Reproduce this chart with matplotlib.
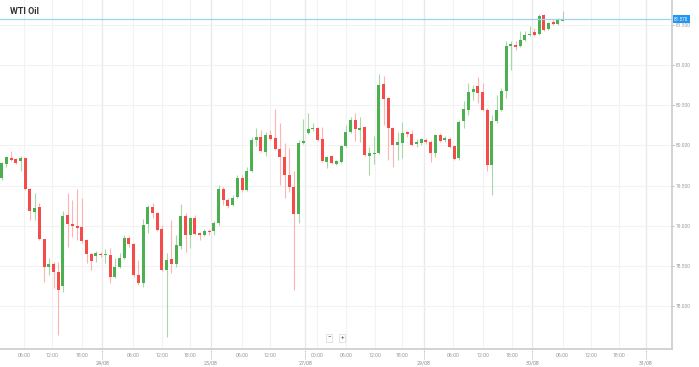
import numpy as np
import matplotlib.pyplot as plt

plt.rcParams['font.family'] = ['Roboto', 'DejaVu Sans']

# hourly WTI candles
opens = [79.59, 79.77, 79.84, 79.83, 79.81, 79.84, 79.46, 79.17, 79.23, 78.83,
         78.49, 78.52, 78.42, 78.25, 79.13, 79.02, 79.00, 78.98, 78.82, 78.65,
         78.62, 78.65, 78.64, 78.64, 78.36, 78.49, 78.60, 78.85, 78.77, 78.39,
         78.29, 79.02, 79.23, 79.16, 78.96, 78.45, 78.58, 78.52, 78.75, 79.12,
         78.88, 79.10, 78.91, 78.88, 78.93, 78.93, 79.03, 79.46, 79.32, 79.26,
         79.36, 79.59, 79.44, 79.68, 80.07, 80.10, 79.92, 80.13, 80.09, 79.95,
         79.85, 79.63, 79.48, 79.15, 80.03, 80.15, 80.20, 80.22, 80.08, 79.79,
         79.87, 79.77, 79.79, 79.99, 80.17, 80.32, 80.19, 80.23, 79.87, 79.89,
         79.91, 80.76, 80.59, 80.22, 80.01, 80.03, 80.17, 80.14, 80.02, 80.03,
         80.07, 80.04, 79.91, 80.13, 80.07, 80.08, 79.99, 79.84, 80.30, 80.44,
         80.66, 80.74, 80.66, 80.44, 79.76, 80.30, 80.44, 80.68, 81.24, 81.25,
         81.24, 81.31, 81.37, 81.41, 81.39, 81.62, 81.45, 81.54, 81.51, 81.55]
highs = [79.79, 79.87, 79.93, 79.84, 79.87, 79.85, 79.47, 79.41, 79.28, 78.84,
         78.60, 78.55, 78.55, 79.18, 79.41, 79.32, 79.46, 79.34, 78.83, 78.66,
         78.69, 78.67, 78.71, 78.72, 78.60, 78.66, 78.88, 78.87, 78.78, 78.57,
         79.08, 79.26, 79.28, 79.17, 79.01, 78.66, 79.07, 78.88, 79.27, 79.16,
         79.11, 79.13, 78.92, 78.96, 78.96, 79.06, 79.51, 79.48, 79.34, 79.38,
         79.63, 79.63, 79.73, 80.10, 80.22, 80.19, 80.17, 80.19, 80.45, 80.28,
         80.03, 79.97, 79.68, 80.07, 80.33, 80.40, 80.28, 80.23, 80.23, 79.87,
         79.88, 79.82, 80.01, 80.25, 80.35, 80.40, 80.35, 80.24, 79.98, 80.12,
         80.89, 80.86, 80.60, 80.23, 80.17, 80.29, 80.18, 80.19, 80.08, 80.09,
         80.09, 80.07, 80.14, 80.15, 80.12, 80.10, 80.01, 80.32, 80.55, 80.78,
         80.75, 80.85, 80.78, 80.46, 80.38, 80.63, 80.71, 81.30, 81.30, 81.30,
         81.42, 81.42, 81.49, 81.46, 81.64, 81.64, 81.54, 81.57, 81.59, 81.67]
lows = [79.57, 79.73, 79.81, 79.77, 79.68, 79.44, 79.07, 79.07, 78.82, 78.30,
        78.39, 78.22, 77.64, 78.17, 78.73, 78.86, 78.82, 78.78, 78.54, 78.45,
        78.55, 78.61, 78.54, 78.29, 78.35, 78.47, 78.59, 78.73, 78.36, 78.26,
        78.24, 78.91, 79.10, 78.93, 78.43, 77.61, 78.41, 78.49, 78.71, 78.67,
        78.72, 78.88, 78.82, 78.87, 78.88, 78.88, 79.01, 79.26, 79.22, 79.25,
        79.34, 79.42, 79.43, 79.67, 79.99, 79.92, 79.87, 80.07, 79.94, 79.51,
        79.34, 79.42, 78.20, 79.03, 80.02, 80.14, 80.18, 80.05, 79.79, 79.72,
        79.77, 79.76, 79.78, 79.98, 80.15, 80.05, 80.04, 79.87, 79.63, 79.77,
        79.89, 80.25, 79.82, 79.73, 79.82, 79.84, 80.10, 79.99, 79.98, 80.01,
        80.02, 79.79, 79.85, 80.04, 80.04, 79.97, 79.82, 79.82, 80.22, 80.38,
        80.56, 80.53, 80.43, 79.68, 79.38, 80.28, 80.43, 80.59, 80.94, 81.19,
        81.23, 81.30, 81.36, 81.36, 81.37, 81.42, 81.44, 81.50, 81.50, 81.55]
closes = [79.78, 79.85, 79.82, 79.78, 79.84, 79.46, 79.18, 79.22, 78.83, 78.49,
          78.52, 78.42, 78.20, 79.12, 79.02, 79.00, 78.97, 78.81, 78.65, 78.56,
          78.66, 78.64, 78.65, 78.36, 78.49, 78.60, 78.85, 78.77, 78.39, 78.29,
          79.01, 79.23, 79.16, 78.95, 78.45, 78.57, 78.52, 78.76, 79.12, 78.88,
          79.10, 78.90, 78.88, 78.93, 78.92, 79.03, 79.46, 79.32, 79.25, 79.34,
          79.59, 79.44, 79.68, 80.07, 80.10, 79.93, 80.13, 80.08, 79.95, 79.85,
          79.63, 79.48, 79.15, 80.03, 80.05, 80.20, 80.22, 80.07, 79.80, 79.85,
          79.78, 79.80, 79.99, 80.17, 80.32, 80.20, 80.22, 79.88, 79.91, 79.91,
          80.75, 80.58, 80.22, 80.01, 80.04, 80.15, 80.14, 80.01, 80.04, 80.08,
          80.04, 79.91, 80.13, 80.05, 80.09, 79.98, 79.83, 80.29, 80.45, 80.66,
          80.70, 80.65, 80.44, 79.76, 80.30, 80.44, 80.68, 81.24, 81.26, 81.22,
          81.31, 81.37, 81.39, 81.37, 81.61, 81.44, 81.52, 81.51, 81.56, 81.57]

time_labels = ['06:00', '12:00', '18:00', '06:00', '12:00', '18:00', '06:00', '12:00', '00:00',
               '06:00', '12:00', '18:00', '06:00', '12:00', '18:00', '06:00', '12:00', '18:00']
day_labels = ['24/08', '25/08', '27/08', '29/08', '30/08', '31/08']
price_ticks = [78.0, 78.5, 79.0, 79.5, 80.0, 80.5, 81.0, 81.5]

# where the labels sit, in candle index units
time_pos = [4.73, 10.73, 16.97, 27.92, 33.94, 39.95, 50.98, 56.98, 66.95,
            73.04, 79.13, 84.98, 95.74, 102.04, 108.19, 119.01, 124.95, 131.02]
day_pos = [21.34, 44.34, 64.40, 89.58, 112.56, 136.68]

o = np.array(opens)
h = np.array(highs)
l = np.array(lows)
c = np.array(closes)
x = np.arange(len(o))
up = c >= o

fig = plt.figure(figsize=(6.99, 3.67), dpi=100)
ax = fig.add_axes([0, 1 - 349 / 367, 672 / 699, 349 / 367])

# grid
for p in time_pos:
    ax.axvline(p, color='#f2f2f2', lw=0.8, zorder=0)
for p in day_pos:
    ax.axvline(p, color='#e9e9e9', lw=1.0, zorder=0)
for p in price_ticks:
    ax.axhline(p, color='#f2f2f2', lw=0.8, zorder=0)

# candles
ax.vlines(x[up], l[up], h[up], color='#a8d8a8', lw=0.8, zorder=2)
ax.vlines(x[~up], l[~up], h[~up], color='#ffb4b4', lw=0.8, zorder=2)
bottom = np.minimum(o, c)
height = np.maximum(np.abs(c - o), 0.013)
colors = np.where(up, '#4caf50', '#f44b4b')
ax.bar(x, height, bottom=bottom, width=0.64, color=colors, zorder=3)

# last price
last = closes[-1]
ax.axhline(last, color='#9dd2f0', lw=0.9, zorder=4)
ax.text(1.003, last, f'{last:.3f}', transform=ax.get_yaxis_transform(),
        ha='left', va='center', fontsize=3.3, color='white', clip_on=False,
        bbox=dict(boxstyle='square,pad=0.3', fc='#2196f3', ec='none'))

ax.set_xlim(-0.36, 142.2)
ax.set_ylim(77.464, 81.811)

ax.yaxis.tick_right()
ax.set_yticks(price_ticks, [f'{v:.3f}' for v in price_ticks])
ax.tick_params(axis='y', length=1.5, width=0.6, color='#aaaaaa', pad=1.2,
               labelsize=3.5, labelcolor='#999999')

ax.set_xticks(time_pos, time_labels)
ax.set_xticks(day_pos, day_labels, minor=True)
ax.tick_params(axis='x', which='major', length=0, pad=3.2, labelsize=3.8,
               labelcolor='#999999')
ax.tick_params(axis='x', which='minor', length=0, pad=8.5, labelsize=3.8,
               labelcolor='#8a8a8a')
ax.vlines(day_pos, -0.028, 0, transform=ax.get_xaxis_transform(),
          colors='#b0b0b0', lw=0.7, linestyles=(0, (1, 1)), clip_on=False)

for side in ['left', 'top']:
    ax.spines[side].set_visible(False)
for side in ['right', 'bottom']:
    ax.spines[side].set_color('#cccccc')
    ax.spines[side].set_linewidth(1.2)

# zoom buttons
btn = dict(boxstyle='square,pad=0.25', fc='white', ec='#dddddd', lw=0.6)
ax.text(0.4896, 0.032, '\u2212', transform=ax.transAxes, ha='center', va='center',
        fontsize=4.5, color='#555555', bbox=btn, zorder=5)
ax.text(0.509, 0.032, '+', transform=ax.transAxes, ha='center', va='center',
        fontsize=4.5, color='#555555', bbox=btn, zorder=5)

fig.text(10 / 699, 1 - 11.5 / 367, 'WTI Oil', fontsize=6.5, fontweight='bold',
         color='#333333', va='center', ha='left')

fig.savefig('out.png', dpi=100)
